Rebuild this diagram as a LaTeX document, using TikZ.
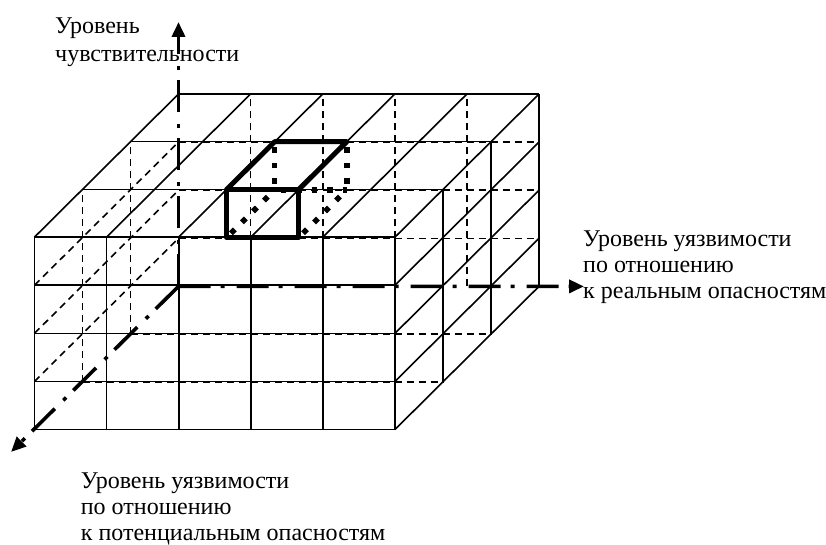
\documentclass[tikz,border=0pt]{standalone}
\usepackage{fontspec}
\setmainfont{Liberation Serif}
\usetikzlibrary{arrows.meta}
\begin{document}
\begin{tikzpicture}[x={(72.1pt,0pt)}, y={(0pt,48.1pt)}, z={(48pt,47.7pt)},
  grid/.style={line width=1.6pt},
  hidden/.style={line width=1.6pt, dash pattern=on 7pt off 5pt},
  axis/.style={line width=3.6pt, dash pattern=on 32pt off 10pt on 4pt off 12pt, -{Triangle[length=15pt,width=13pt]}},
  cubeedge/.style={line width=5pt, line join=round},
  cubehidden/.style={line width=5.5pt, dash pattern=on 5.5pt off 10pt, dash phase=-6pt},
  lbl/.style={font=\fontsize{24}{26}\selectfont, align=left, anchor=base west, inner sep=0pt}
]
\useasboundingbox (-34.5pt,-114.5pt) rectangle (791.5pt,429.5pt);
% hidden lines
\foreach \h in {1,2,3} \draw[hidden] (0,\h,3) -- (5,\h,3);
\foreach \x in {1,...,4} \draw[hidden] (\x,0,3) -- (\x,4,3);
\foreach \d in {1,2} \draw[hidden] (0,0,\d) -- (0,4,\d);
\foreach \h in {1,2,3} \draw[hidden] (0,\h,0) -- (0,\h,3);
\foreach \d in {1,2} \draw[hidden] (0,0,\d) -- (5,0,\d);
% visible lines
\foreach \h in {0,...,4} \draw[grid] (0,\h,0) -- (5,\h,0);
\foreach \x in {0,...,5} \draw[grid] (\x,0,0) -- (\x,4,0);
\foreach \d in {1,2,3} \draw[grid] (0,4,\d) -- (5,4,\d);
\foreach \x in {0,...,5} \draw[grid] (\x,4,0) -- (\x,4,3);
\foreach \d in {1,2,3} \draw[grid] (5,0,\d) -- (5,4,\d);
\foreach \h in {0,...,3} \draw[grid] (5,\h,0) -- (5,\h,3);
% axes
\coordinate (O) at (0,0,3);
\coordinate (ytip) at (144pt,407.5pt);
\coordinate (xtip) at (549.5pt,143.1pt);
\coordinate (ztip) at (-23.5pt,-22.5pt);
\draw[axis] (O) -- (ytip);
\draw[axis] (O) -- (xtip);
\draw[axis] (O) -- (ztip);
% highlighted cell
\coordinate (c1) at (2,3,1); \coordinate (c2) at (3,3,1);
\coordinate (c3) at (3,4,1); \coordinate (c4) at (2,4,1);
\coordinate (c5) at (2,3,2); \coordinate (c6) at (3,3,2);
\coordinate (c7) at (3,4,2); \coordinate (c8) at (2,4,2);
\draw[cubehidden] (c5) -- (c8);
\draw[cubehidden] (c6) -- (c7);
\draw[cubehidden] (c5) -- (c6);
\draw[cubehidden] (c1) -- (c5);
\draw[cubehidden] (c2) -- (c6);
\draw[cubeedge] (c1) -- (c2) -- (c3) -- (c4) -- cycle;
\draw[cubeedge] (c4) -- (c8) -- (c7) -- (c3);
% labels
\node[lbl, font=\fontsize{24}{28}\selectfont] (sens) at (20.5pt,368pt) {Уровень\\чувствительности};
\node[lbl] (real) at (548.5pt,131.2pt) {Уровень уязвимости\\по отношению\\к реальным опасностям};
\node[lbl] (pot) at (46.2pt,-110.5pt) {Уровень уязвимости\\по отношению\\к потенциальным опасностям};
\end{tikzpicture}
\end{document}
